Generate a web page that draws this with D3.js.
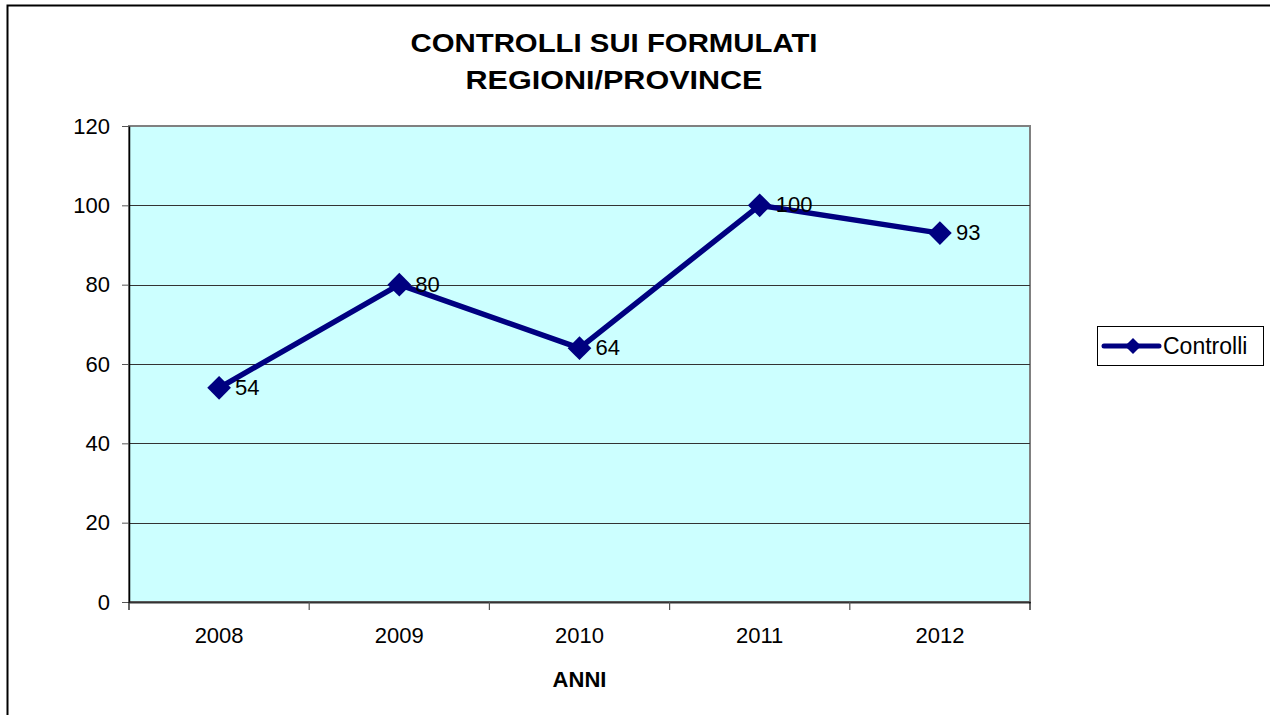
<!DOCTYPE html>
<html>
<head>
<meta charset="utf-8">
<script src="https://cdn.jsdelivr.net/npm/d3@7"></script>
<style>
  body { margin: 0; background: #fff; }
  svg { display: block; font-family: "Liberation Sans", Arial, sans-serif; }
</style>
</head>
<body>
<div id="chart"></div>
<script>
// data
var years = ["2008", "2009", "2010", "2011", "2012"];
var controlli = [54, 80, 64, 100, 93];
var yTicks = [0, 20, 40, 60, 80, 100, 120];
var titleLines = ["CONTROLLI SUI FORMULATI", "REGIONI/PROVINCE"];
var seriesName = "Controlli";
var xTitle = "ANNI";

var W = 1270, H = 715;
var plot = { left: 129, top: 126, right: 1030, bottom: 602 };
var navy = "#000080";
var font = "Liberation Sans, Arial, sans-serif";

var svg = d3.select("#chart").append("svg")
  .attr("width", W)
  .attr("height", H);

// outer chart frame (runs off right/bottom)
svg.append("rect")
  .attr("x", 7.5).attr("y", 5.5)
  .attr("width", W + 20).attr("height", H + 20)
  .attr("fill", "#fff")
  .attr("stroke", "#000")
  .attr("stroke-width", 2);

var x = d3.scaleBand().domain(years).range([plot.left, plot.right]);
var y = d3.scaleLinear().domain([0, 120]).range([plot.bottom, plot.top]);

// plot area background
svg.append("rect")
  .attr("x", plot.left).attr("y", plot.top)
  .attr("width", plot.right - plot.left)
  .attr("height", plot.bottom - plot.top)
  .attr("fill", "#ccffff")
  .attr("stroke", "#808080")
  .attr("stroke-width", 2);

// gridlines
svg.append("g").selectAll("line")
  .data(yTicks.filter(d => d > 0 && d < 120))
  .enter().append("line")
  .attr("x1", plot.left).attr("x2", plot.right)
  .attr("y1", d => Math.round(y(d)) + 0.5)
  .attr("y2", d => Math.round(y(d)) + 0.5)
  .attr("stroke", "#333")
  .attr("stroke-width", 1);

// y axis
var yAxis = svg.append("g")
  .attr("transform", "translate(" + plot.left + ",0)")
  .call(d3.axisLeft(y).tickValues(yTicks).tickSize(7).tickPadding(12).tickSizeOuter(0));
yAxis.select(".domain").attr("stroke", "#000").attr("stroke-width", 1.5);
yAxis.selectAll(".tick line").attr("stroke", "#555");
yAxis.selectAll("text")
  .attr("font-size", "22px")
  .attr("fill", "#000")
  .attr("font-family", font);

// x axis
var xAxis = svg.append("g")
  .attr("transform", "translate(0," + plot.bottom + ")")
  .call(d3.axisBottom(x).tickSize(0).tickPadding(25).tickSizeOuter(0));
xAxis.select(".domain").attr("stroke", "#333").attr("stroke-width", 2);
xAxis.selectAll("text")
  .attr("font-size", "22px")
  .attr("fill", "#000")
  .attr("font-family", font);

// x tick marks at category boundaries
var bounds = years.map(d => x(d)).concat([x(years[years.length - 1]) + x.bandwidth()]);
svg.append("g").selectAll("line")
  .data(bounds)
  .enter().append("line")
  .attr("x1", d => d).attr("x2", d => d)
  .attr("y1", plot.bottom).attr("y2", plot.bottom + 8)
  .attr("stroke", (d, i) => (i === 0 || i === bounds.length - 1) ? "#000" : "#555")
  .attr("stroke-width", 1.2);

// line
var line = d3.line()
  .x((d, i) => x(years[i]) + x.bandwidth() / 2)
  .y(d => y(d));

svg.append("path")
  .datum(controlli)
  .attr("d", line)
  .attr("fill", "none")
  .attr("stroke", navy)
  .attr("stroke-width", 5.5)
  .attr("stroke-linejoin", "round");

var diamond = d3.symbol().type(d3.symbolSquare).size(280);
svg.append("g").selectAll("path")
  .data(controlli)
  .enter().append("path")
  .attr("d", diamond)
  .attr("transform", (d, i) => "translate(" + (x(years[i]) + x.bandwidth() / 2) + "," + y(d) + ") rotate(45)")
  .attr("fill", navy);

// data labels
svg.append("g").selectAll("text")
  .data(controlli)
  .enter().append("text")
  .attr("x", (d, i) => x(years[i]) + x.bandwidth() / 2 + 16)
  .attr("y", d => y(d) + 7)
  .attr("font-size", "22px")
  .attr("fill", "#000")
  .text(d => d);

// title (widths)
var titleWidths = [407, 297];
svg.append("g").selectAll("text")
  .data(titleLines)
  .enter().append("text")
  .attr("x", 614)
  .attr("y", (d, i) => 52 + i * 37)
  .attr("text-anchor", "middle")
  .attr("font-size", "26px")
  .attr("font-weight", "bold")
  .attr("textLength", (d, i) => titleWidths[i])
  .attr("lengthAdjust", "spacingAndGlyphs")
  .text(d => d);

// x axis title
svg.append("text")
  .attr("x", (plot.left + plot.right) / 2)
  .attr("y", 687)
  .attr("text-anchor", "middle")
  .attr("font-size", "22px")
  .attr("font-weight", "bold")
  .text(xTitle);

// legend
var legend = svg.append("g").attr("transform", "translate(1097,326)");
legend.append("rect")
  .attr("x", 0.5).attr("y", 0.5)
  .attr("width", 166).attr("height", 39)
  .attr("fill", "#fff")
  .attr("stroke", "#000")
  .attr("stroke-width", 1);
legend.append("line")
  .attr("x1", 7).attr("x2", 62)
  .attr("y1", 20).attr("y2", 20)
  .attr("stroke", navy)
  .attr("stroke-width", 5)
  .attr("stroke-linecap", "round");
legend.append("path")
  .attr("d", d3.symbol().type(d3.symbolSquare).size(130))
  .attr("transform", "translate(36,20) rotate(45)")
  .attr("fill", navy);
legend.append("text")
  .attr("x", 66).attr("y", 28)
  .attr("font-size", "23px")
  .text(seriesName);
</script>
</body>
</html>
